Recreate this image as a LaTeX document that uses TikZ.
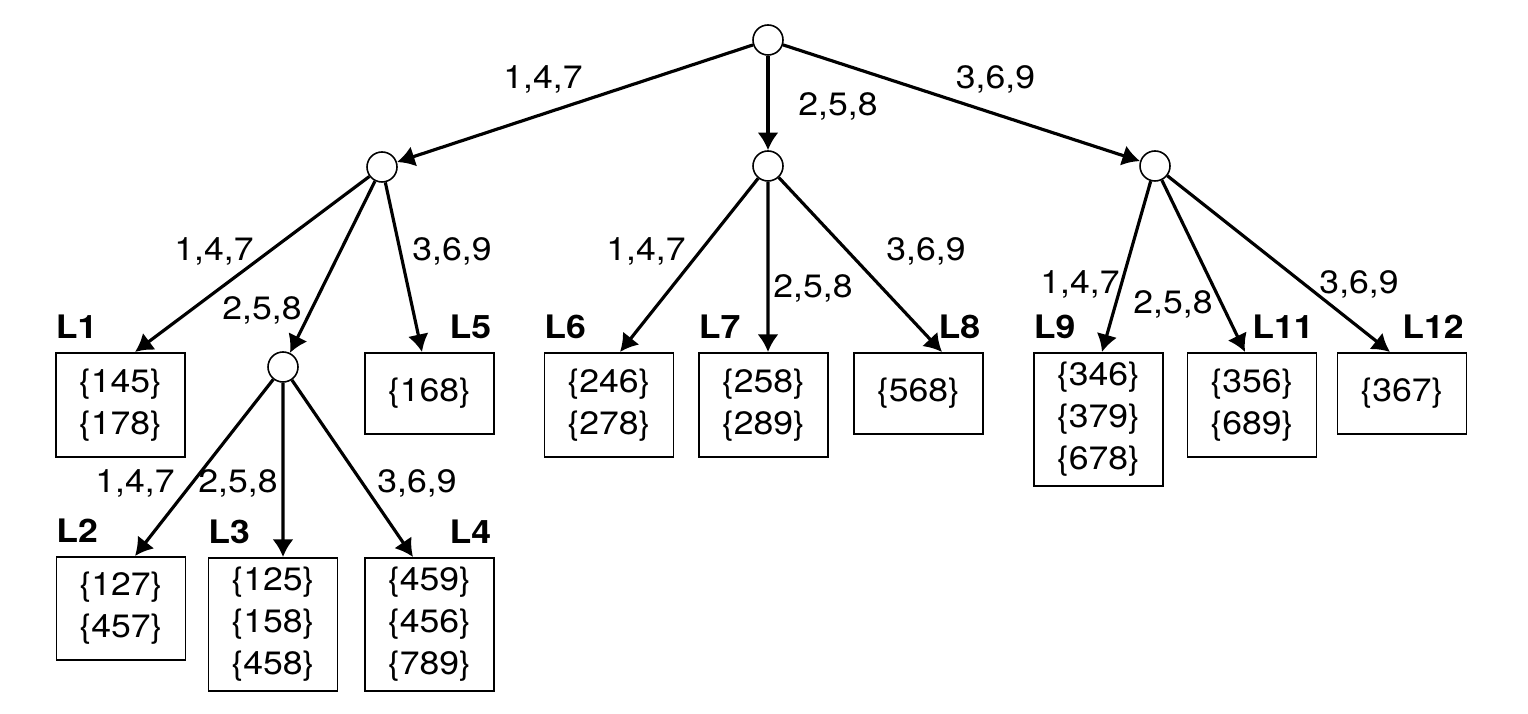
\documentclass[tikz,border=0pt]{standalone}
\usepackage{fontspec}
\setmainfont[FakeStretch=1.1]{TeX Gyre Heros}
\usepackage{tikz}
\usetikzlibrary{arrows.meta}
\newcommand{\treefont}{\fontsize{9.2pt}{11.9pt}\selectfont}
\tikzset{
	every text node part/.style= {
		align=center
	},
	every node/.style ={font=\treefont},
	split/.style= {
		circle,
		draw,
		fill=white,
		line width=0.45pt,
		minimum size=0.3cm,
		inner sep=0
	},
	leaf/.style= {
		rectangle,
		draw,
		line width=0.45pt,
		minimum width=1.29cm,
		minimum height=#1,
		inner sep=0,
		anchor=north
	},
	leaf/.default=1.04cm,
	lname/.style={font={\treefont\bfseries}, inner sep=0},
	digits/.style={anchor=base, inner sep=0},
	branch/.style={-{Latex[length=5pt, width=6pt]}, line width=0.9pt},
}
\newcommand{\lnameW}[2]{
	\node(#1name)[lname, anchor=base west] at ([yshift=1.3mm]#1.north west){#2};
}
\newcommand{\lnameE}[2]{
	\node(#1name)[lname, anchor=base east] at ([xshift=-0.3mm, yshift=1.3mm]#1.north east){#2};
}

\begin{document}
\begin{tikzpicture}
		\useasboundingbox (0,0) rectangle (15.28,-7.14);
		
		\node (root) [split] at (7.68,-0.40) {};
		\node (n1) [split] at (3.82,-1.67) {};
		\node (n2) [split] at (7.68,-1.66) {};
		\node (n3) [split] at (11.55,-1.66) {};
		\node (n4) [split] at (2.83,-3.67) {};
		
		\node (l1) [leaf] at (1.205,-3.52) {\{145\}\\\{178\}};
		\node (l5) [leaf=0.81cm] at (4.295,-3.52) {\{168\}};
		\node (l2) [leaf=1.03cm] at (1.21,-5.56) {\{127\}\\\{457\}};
		\node (l3) [leaf=1.33cm] at (2.73,-5.57) {\{125\}\\\{158\}\\\{458\}};
		\node (l4) [leaf=1.33cm] at (4.295,-5.57) {\{459\}\\\{456\}\\\{789\}};
		\node (l6) [leaf] at (6.09,-3.52) {\{246\}\\\{278\}};
		\node (l7) [leaf] at (7.635,-3.52) {\{258\}\\\{289\}};
		\node (l8) [leaf=0.81cm] at (9.185,-3.52) {\{568\}};
		\node (l9) [leaf=1.33cm] at (10.985,-3.52) {\{346\}\\\{379\}\\\{678\}};
		\node (l11) [leaf] at (12.52,-3.52) {\{356\}\\\{689\}};
		\node (l12) [leaf=0.81cm] at (14.02,-3.52) {\{367\}};
		
		\lnameW{l1}{L1}
		\lnameW{l2}{L2}
		\lnameW{l3}{L3}
		\lnameE{l4}{L4}
		\lnameE{l5}{L5}
		\lnameW{l6}{L6}
		\lnameW{l7}{L7}
		\lnameE{l8}{L8}
		\lnameW{l9}{L9}
		\lnameE{l11}{L11}
		\lnameE{l12}{L12}
		
		\node (root147) [digits] at (5.43,-0.89) {1,4,7};
		\node (root258) [digits] at (8.38,-1.16) {2,5,8};
		\node (root369) [digits] at (9.955,-0.89) {3,6,9};
		\node (n1147) [digits] at (2.14,-2.61) {1,4,7};
		\node (n1258) [digits] at (2.62,-3.20) {2,5,8};
		\node (n1369) [digits] at (4.52,-2.61) {3,6,9};
		\node (n2147) [digits] at (6.46,-2.61) {1,4,7};
		\node (n2258) [digits] at (8.13,-2.98) {2,5,8};
		\node (n2369) [digits] at (9.26,-2.61) {3,6,9};
		\node (n3147) [digits] at (10.80,-2.94) {1,4,7};
		\node (n3258) [digits] at (11.73,-3.14) {2,5,8};
		\node (n3369) [digits] at (13.59,-2.94) {3,6,9};
		\node (n4147) [digits] at (1.35,-4.93) {1,4,7};
		\node (n4258) [digits] at (2.38,-4.93) {2,5,8};
		\node (n4369) [digits] at (4.17,-4.93) {3,6,9};
		
		\draw[branch] (root) to (n1);
		\draw[branch] (root) to (n2);
		\draw[branch] (root) to (n3);
		\draw[branch] (n1) to ([xshift=1.45mm]l1.north);
		\draw[branch] (n1) to (n4);
		\draw[branch] (n1) to ([xshift=-0.75mm]l5.north);
		\draw[branch] (n4) to ([xshift=1.4mm]l2.north);
		\draw[branch] (n4) to ([xshift=1mm]l3.north);
		\draw[branch] (n4) to ([xshift=-1.65mm]l4.north);
		\draw[branch] (n2) to ([xshift=1.1mm]l6.north);
		\draw[branch] (n2) to ([xshift=0.45mm]l7.north);
		\draw[branch] (n2) to ([xshift=2.35mm]l8.north);
		\draw[branch] (n3) to ([xshift=0.35mm]l9.north);
		\draw[branch] (n3) to ([xshift=-0.7mm]l11.north);
		\draw[branch] (n3) to ([xshift=-1.2mm]l12.north);
		\end{tikzpicture}
\end{document}
